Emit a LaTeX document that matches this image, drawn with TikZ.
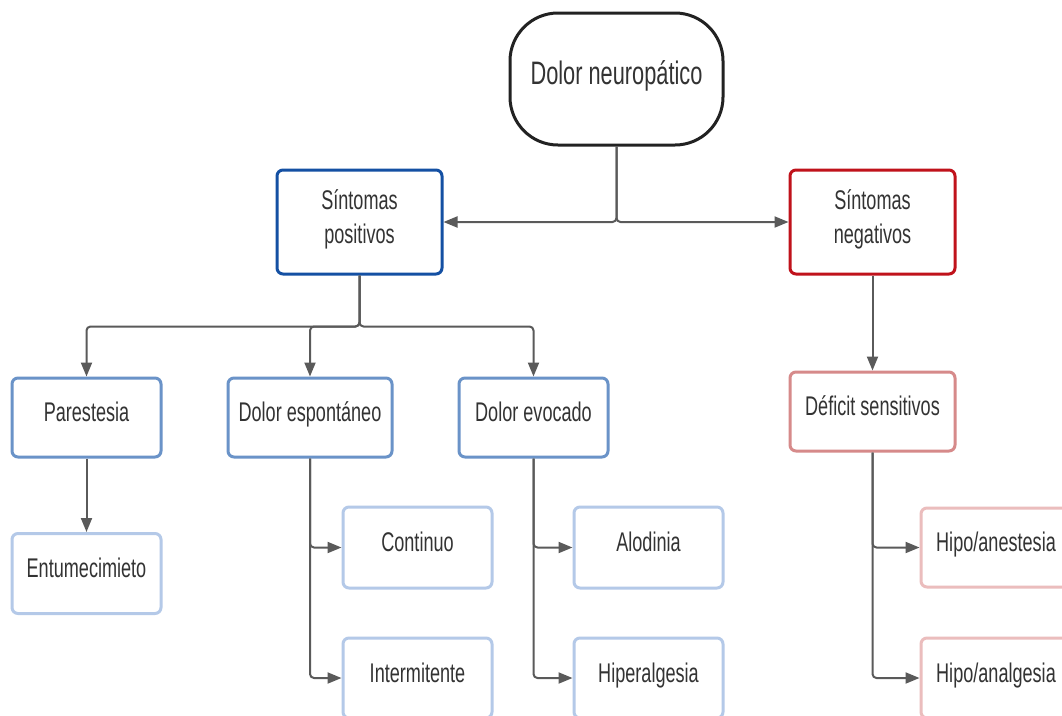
\documentclass[tikz,border=0pt]{standalone}
\usepackage{fontspec}
\setmainfont{Liberation Sans}[FakeStretch=0.67]
\usetikzlibrary{arrows.meta}
\definecolor{txt}{HTML}{333333}
\definecolor{conncol}{HTML}{5A5A5A}
\definecolor{rootcol}{HTML}{222222}
\definecolor{posblue}{HTML}{1450A3}
\definecolor{negred}{HTML}{C0121B}
\definecolor{midblue}{HTML}{6A93C8}
\definecolor{lightblue}{HTML}{B4C9E8}
\definecolor{midred}{HTML}{D68A8A}
\definecolor{lightred}{HTML}{EBBDBD}
\tikzset{
  box/.style={draw, line width=3pt, rounded corners=6pt, fill=white, text=txt,
    font=\fontsize{27}{34}\selectfont, align=center, inner sep=0pt, text depth=11pt},
  rootbox/.style={box, draw=rootcol, rounded corners=48pt, minimum width=213pt, minimum height=132pt,
    font=\fontsize{32.5}{38}\selectfont, text depth=12pt},
  lvlone/.style={box, minimum width=165pt, minimum height=104pt},
  lvltwo/.style={box, minimum width=149pt, minimum height=79pt},
  lvlthree/.style={box, minimum width=149pt, minimum height=80pt},
  conn/.style={draw=conncol, line width=2pt, rounded corners=4pt,
    -{Triangle[length=14pt,width=11pt]}, fill=none}
}
\begin{document}
\begin{tikzpicture}[x=1pt,y=-1pt]
\path[use as bounding box] (0,0) rectangle (1062,715);
\clip (0,0) rectangle (1062,715);
\fill[white] (0,0) rectangle (1062,715);

\node[rootbox] (root) at (616.5,79) {Dolor neuropático};
\node[lvlone, draw=posblue] (sp) at (359.5,222) {Síntomas\\positivos};
\node[lvlone, draw=negred] (sn) at (872.5,222) {Síntomas\\negativos};

\node[lvltwo, draw=midblue] (par) at (86.5,417.5) {Parestesia};
\node[lvltwo, draw=midblue, minimum width=164pt] (de) at (310,417.5) {Dolor espontáneo};
\node[lvltwo, draw=midblue] (dev) at (533.5,417.5) {Dolor evocado};
\node[lvltwo, draw=midred, minimum width=165pt] (ds) at (872.5,411.5) {Déficit sensitivos};

\node[lvlthree, draw=lightblue] (ent) at (86.5,573.5) {Entumecimieto};
\node[lvlthree, draw=lightblue, minimum height=81pt] (con) at (417.5,547.5) {Continuo};
\node[lvlthree, draw=lightblue] (int) at (417.5,678) {Intermitente};
\node[lvlthree, draw=lightblue, minimum height=81pt] (alo) at (648.5,547.5) {Alodinia};
\node[lvlthree, draw=lightblue] (hip) at (648.5,678) {Hiperalgesia};
\node[lvlthree, draw=lightred, minimum width=150pt, minimum height=79pt] (ha) at (996,547.5) {Hipo/anestesia};
\node[lvlthree, draw=lightred, minimum width=150pt] (han) at (996,678) {Hipo/analgesia};

\draw[conn] (root.south) |- (sp.east);
\draw[conn] (root.south) |- (sn.west);

\draw[conn] (sp.south) -- ++(0,51) -| (par.north);
\draw[conn] (sp.south) -- ++(0,51) -| (de.north);
\draw[conn] (sp.south) -- ++(0,51) -| (dev.north);

\draw[conn] (sn.south) -- (ds.north);
\draw[conn] (par.south) -- (ent.north);

\draw[conn] (de.south) |- (con.west);
\draw[conn] (de.south) |- (int.west);
\draw[conn] (dev.south) |- (alo.west);
\draw[conn] (dev.south) |- (hip.west);
\draw[conn] (ds.south) |- (ha.west);
\draw[conn] (ds.south) |- (han.west);
\end{tikzpicture}
\end{document}
